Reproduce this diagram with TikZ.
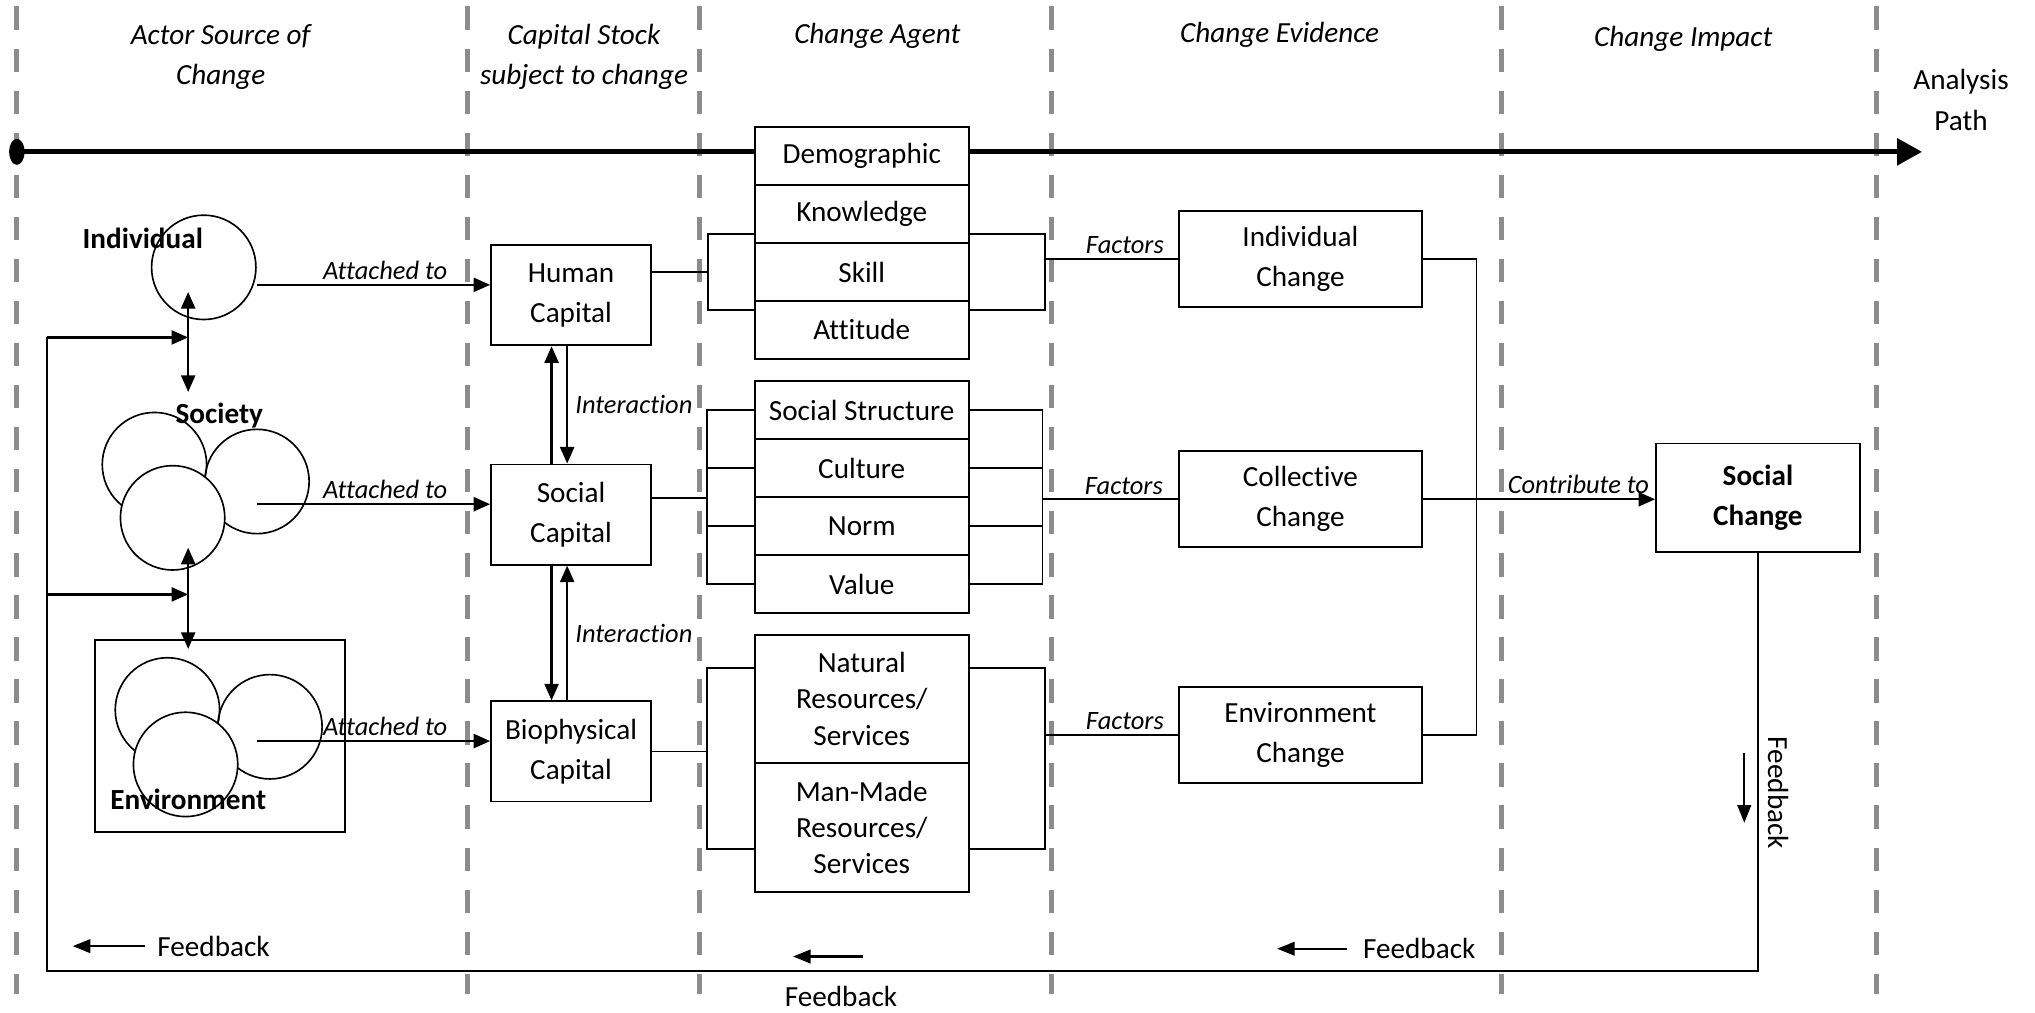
\documentclass[tikz,border=0pt]{standalone}
\usepackage{fontspec}
\setmainfont[Ligatures=NoCommon]{Carlito}
\usetikzlibrary{arrows.meta,calc}
\tikzset{
  lane/.style={black!45, line width=2.8pt, dash pattern=on 4.5mm off 3.6mm},
  box/.style={draw, line width=1pt, fill=white, align=center, inner sep=0pt,
    font=\fontsize{16}{22}\selectfont},
  capbox/.style={box, minimum width=30.8mm, minimum height=19.3mm},
  agentrow/.style={box, minimum width=41.25mm, minimum height=11.15mm},
  resrow/.style={box, minimum width=41.25mm, minimum height=24.75mm,
    font=\fontsize{16}{19.8}\selectfont},
  evbox/.style={box, minimum width=46.75mm, minimum height=18.5mm},
  actor/.style={draw, circle, line width=0.9pt, minimum size=20.1mm, inner sep=0pt},
  actorname/.style={font=\fontsize{16}{22}\selectfont\bfseries, inner sep=0pt},
  colhead/.style={font=\fontsize{16}{22}\selectfont\itshape, align=center},
  lbl/.style={font=\fontsize{14.5}{17}\selectfont\itshape, inner sep=1pt},
  fbtext/.style={font=\fontsize{16}{22}\selectfont, inner sep=0pt},
  link/.style={line width=1pt},
  arr/.style={line width=1.3pt, -{Triangle[length=3.2mm,width=2.7mm]}},
  darr/.style={line width=1.3pt, {Triangle[length=3.2mm,width=2.7mm]}-{Triangle[length=3.2mm,width=2.7mm]}},
  fbarr/.style={line width=1.3pt, -{Triangle[length=3.4mm,width=2.6mm]}},
}
\begin{document}
\begin{tikzpicture}[x=0.25mm, y=-0.25mm]
\useasboundingbox (0,0) rectangle (1568,780);
\foreach \lx in {13,360,539,810,1157,1446}
  \draw[lane] (\lx,5) -- (\lx,766);

\node[colhead] (hactor) at (170,44) {Actor Source of\\Change};
\node[colhead] (hstock) at (450,44) {Capital Stock\\subject to change};
\node[colhead] (hagent) at (676,28) {Change Agent};
\node[colhead] (hevid) at (986,27) {Change Evidence};
\node[colhead] (himpact) at (1297,30) {Change Impact};
\node[fbtext, align=center, font=\fontsize{16}{22.5}\selectfont] (hpath) at (1511,77) {Analysis\\Path};

% analysis path
\coordinate (pathstart) at (13,117);
\coordinate (pathend) at (1481,117);
\fill (pathstart) ellipse [x radius=1.5mm, y radius=2.5mm];
\draw[line width=2.9pt, -{Triangle[length=4.8mm,width=5mm]}] (pathstart) -- (pathend);

% actors
\node[actor] (ind) at (157,206) {};
\node[actor] (socl) at (119,358) {};
\node[actor] (socr) at (198,371) {};
\node[actor, fill=white] (socf) at (133,399) {};
\node[draw, line width=1pt, minimum width=48.15mm, minimum height=36.9mm] (envbox) at (169.7,567) {};
\node[actor] (envl) at (129,547) {};
\node[actor] (envr) at (208,560) {};
\node[actor, fill=white] (envf) at (143,589) {};
\node[actorname] (indname) at (110,184) {Individual};
\node[actorname] (socname) at (169,320) {Society};
\node[actorname] (envname) at (145,616) {Environment};

\coordinate (isA) at (145,225);
\coordinate (isB) at (145,302);
\coordinate (seA) at (145,422);
\coordinate (seB) at (145,500);
\draw[darr] (isA) -- (isB);
\draw[darr] (seA) -- (seB);

% capital stock
\node[capbox] (human) at (440,227.5) {Human\\Capital};
\node[capbox] (social) at (440,396.5) {Social\\Capital};
\node[capbox] (bio) at (440,579) {Biophysical\\Capital};

\draw[arr] ([yshift=2mm]human.west -| ind.east) -- node[lbl, above=1.2pt, pos=0.55] {Attached to} ([yshift=2mm]human.west);
\draw[arr] ([yshift=2mm]social.west -| ind.east) -- node[lbl, above=1.2pt, pos=0.55] {Attached to} ([yshift=2mm]social.west);
\draw[arr] ([yshift=2mm]bio.west -| ind.east) -- node[lbl, above=1.2pt, pos=0.55] {Attached to} ([yshift=2mm]bio.west);

\draw[arr] ([xshift=-3.75mm]social.north) -- ([xshift=-3.75mm]human.south);
\draw[arr] ([xshift=-0.75mm]human.south) -- node[lbl, right=1mm] {Interaction} ([xshift=-0.75mm]social.north);
\draw[arr] ([xshift=-3.75mm]social.south) -- ([xshift=-3.75mm]bio.north);
\draw[arr] ([xshift=-0.75mm]bio.north) -- node[lbl, right=1mm] {Interaction} ([xshift=-0.75mm]social.south);

% change agents
\node[agentrow] (demo) at (664,120.3) {Demographic};
\node[agentrow] (know) at (664,164.9) {Knowledge};
\node[agentrow] (skill) at (664,209.6) {Skill};
\node[agentrow] (att) at (664,254.2) {Attitude};
\node[agentrow] (sstr) at (664,315.9) {Social Structure};
\node[agentrow] (cult) at (664,360.6) {Culture};
\node[agentrow] (norm) at (664,405.3) {Norm};
\node[agentrow] (val) at (664,450) {Value};
\node[resrow] (natr) at (664,538.5) {Natural\\Resources/\\Services};
\node[resrow] (manm) at (664,637.5) {Man-Made\\Resources/\\Services};

\coordinate (lb1) at ($(skill.west)+(-35,0)$);
\coordinate (rb1) at ($(skill.east)+(58,0)$);
\coordinate (lb2) at ($(cult.west)+(-36,0)$);
\coordinate (rb2) at ($(cult.east)+(56,0)$);
\coordinate (lb3) at ($(natr.west)+(-36,0)$);
\coordinate (rb3) at ($(natr.east)+(58,0)$);

\draw[link] ([yshift=7.3mm]skill.west) -| (lb1) |- ([yshift=-7.3mm]skill.west);
\draw[link] ([yshift=7.3mm]skill.east) -| (rb1) |- ([yshift=-7.3mm]skill.east);
\draw[link] (human.east |- skill.west) -- (lb1);

\draw[link] (sstr.west) -| (lb2) |- (val.west);
\draw[link] (cult.west) -- (cult.west -| lb2);
\draw[link] (norm.west) -- (norm.west -| lb2);
\draw[link] (sstr.east) -| (rb2) |- (val.east);
\draw[link] (cult.east) -- (cult.east -| rb2);
\draw[link] (norm.east) -- (norm.east -| rb2);
\draw[link] (social.east |- cult.south) -- (cult.south -| lb2);

\draw[link] ([yshift=6mm]natr.west) -| (lb3) |- ([yshift=-4.2mm]manm.west);
\draw[link] ([yshift=6mm]natr.east) -| (rb3) |- ([yshift=-4.2mm]manm.east);
\draw[link] (bio.east) -- (bio.east -| lb3);

% change evidence
\node[evbox] (indch) at (1002,199.6) {Individual\\Change};
\node[evbox] (colch) at (1002,384.7) {Collective\\Change};
\node[evbox] (envch) at (1002,566.3) {Environment\\Change};

\draw[link] (indch.west) -- node[lbl, above=1.2pt, pos=0.4] {Factors} (indch.west -| rb1);
\draw[link] (colch.west) -- node[lbl, above=1.2pt, pos=0.4] {Factors} (colch.west -| rb2);
\draw[link] (envch.west) -- node[lbl, above=1.2pt, pos=0.4] {Factors} (envch.west -| rb3);
\draw[link] (indch.east) -- ++(41.5,0) |- (envch.east);

% change impact
\node[box, minimum width=39.25mm, minimum height=20.9mm, font=\fontsize{16}{22}\selectfont\bfseries] (soch) at (1354.5,383.5) {Social\\Change};
\draw[arr] (colch.east) -- node[lbl, above=1.2pt, pos=0.67] {Contribute to} (colch.east -| soch.west);

% feedback loop
\coordinate (fbbot) at (36,748);
\coordinate (fbtop) at (36,260);
\coordinate (fbmid) at (36,458);
\draw[line width=1.1pt] (soch.south) |- (fbbot) -- (fbtop);
\draw[arr] (fbtop) -- (fbtop -| isA);
\draw[arr] (fbmid) -- (fbmid -| seA);

\node[fbtext, anchor=west] (fbl) at (121,729) {Feedback};
\draw[fbarr] ([xshift=-2.25mm]fbl.west) -- ++(-56,0);
\node[fbtext] (fbm) at (648,768) {Feedback};
\draw[fbarr] ([xshift=4.25mm, yshift=7.75mm]fbm.center) -- ++(-54,0);
\node[fbtext, anchor=west] (fbr) at (1050,731) {Feedback};
\draw[fbarr] ([xshift=-3mm]fbr.west) -- ++(-54,0);
\node[fbtext, rotate=-90] (fbv) at (1370,611) {Feedback};
\draw[fbarr] ([xshift=-6.5mm, yshift=7.75mm]fbv.center) -- ++(0,54);
\end{tikzpicture}
\end{document}
